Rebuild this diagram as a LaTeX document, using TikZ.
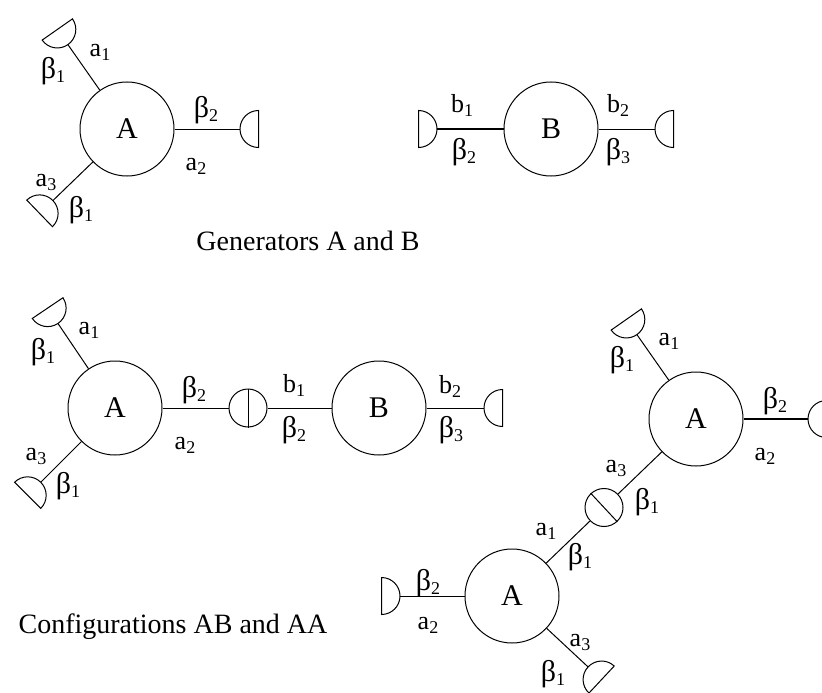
\documentclass[tikz,border=0pt]{standalone}
\usepackage{fontspec}
\setmainfont{Liberation Serif}
\usetikzlibrary{calc}
\newcommand\sbs[1]{\raisebox{-4pt}{\fontsize{18pt}{18pt}\selectfont #1}}
\newcommand\bt{{\fontsize{30pt}{30pt}\selectfont β}}
% half-disc bond end: #1 = end point of the bond, #2 = outward direction
\newcommand\capat[2]{%
  \draw[capline] ($(#1)+(#2:18.5pt)+(#2+90:18.5pt)$)
    .. controls ($(#1)+(#2:8.28pt)+(#2+90:18.5pt)$) and ($(#1)+(#2+90:10.22pt)$) .. (#1)
    .. controls ($(#1)+(#2-90:10.22pt)$) and ($(#1)+(#2:8.28pt)+(#2-90:18.5pt)$) .. ($(#1)+(#2:18.5pt)+(#2-90:18.5pt)$)
    -- cycle;}
\tikzset{
  gen/.style={circle, draw, line width=1pt, minimum size=94pt, inner sep=0pt, font=\fontsize{30pt}{30pt}\selectfont},
  junc/.style={circle, draw, line width=1pt, minimum size=38pt, inner sep=0pt},
  bond/.style={line width=1pt},
  thickbond/.style={line width=2.2pt},
  capline/.style={line width=1pt},
  lbl/.style={inner sep=0pt, font=\fontsize{26pt}{26pt}\selectfont},
  capt/.style={inner sep=0pt, font=\fontsize{28pt}{28pt}\selectfont}
}
\begin{document}
\begin{tikzpicture}[x=1pt,y=-1pt]
\useasboundingbox (0,0) rectangle (822,693);
% ---------- Generator A ----------
\node[gen] (A1) at (127,129) {A};
\coordinate (e11) at ($(A1)+(125:103pt)$);
\coordinate (e12) at ($(A1)+(0:113pt)$);
\coordinate (e13) at ($(A1)+(224:103pt)$);
\draw[bond] (A1) -- (e11);
\draw[bond] (A1) -- (e12);
\draw[bond] (A1) -- (e13);
\capat{e11}{125}
\capat{e12}{0}
\capat{e13}{224}
\node[lbl] (l11) at (100,52) {a\sbs{1}};
\node[lbl] (l12) at (53,71) {\bt\sbs{1}};
\node[lbl] (l13) at (206,110) {\bt\sbs{2}};
\node[lbl] (l14) at (196,166) {a\sbs{2}};
\node[lbl] (l15) at (46,182) {a\sbs{3}};
\node[lbl] (l16) at (81,210) {\bt\sbs{1}};
% ---------- Generator B ----------
\node[gen] (B1) at (551,129) {B};
\coordinate (e14) at ($(B1)+(180:114pt)$);
\coordinate (e15) at ($(B1)+(0:104pt)$);
\draw[thickbond] (B1) -- (e14);
\draw[bond] (B1) -- (e15);
\capat{e14}{180}
\capat{e15}{0}
\node[lbl] (l17) at (462,105) {b\sbs{1}};
\node[lbl] (l18) at (464,152) {\bt\sbs{2}};
\node[lbl] (l19) at (618,105) {b\sbs{2}};
\node[lbl] (l110) at (618,152) {\bt\sbs{3}};
\node[capt] (cap1) at (308,241) {Generators A and B};
% ---------- Configuration AB ----------
\node[gen] (A2) at (115,408) {A};
\node[junc] (J1) at (248,408) {};
\node[gen] (B2) at (379,408) {B};
\coordinate (e21) at ($(A2)+(124:102pt)$);
\coordinate (e23) at ($(A2)+(225:105pt)$);
\coordinate (e25) at ($(B2)+(0:105pt)$);
\draw[bond] (A2) -- (e21);
\draw[bond] (A2) -- (e23);
\draw[bond] (A2) -- (J1);
\draw[bond] (J1) -- (B2);
\draw[bond] (J1.north) -- (J1.south);
\draw[bond] (B2) -- (e25);
\capat{e21}{124}
\capat{e23}{225}
\capat{e25}{0}
\node[lbl] (l21) at (89,330) {a\sbs{1}};
\node[lbl] (l22) at (43,352) {\bt\sbs{1}};
\node[lbl] (l23) at (194,390) {\bt\sbs{2}};
\node[lbl] (l24) at (185,445) {a\sbs{2}};
\node[lbl] (l25) at (36,456) {a\sbs{3}};
\node[lbl] (l26) at (68,486) {\bt\sbs{1}};
\node[lbl] (l27) at (294,385) {b\sbs{1}};
\node[lbl] (l28) at (294,430) {\bt\sbs{2}};
\node[lbl] (l29) at (450,386) {b\sbs{2}};
\node[lbl] (l210) at (451,430) {\bt\sbs{3}};
\node[capt] (cap2) at (173,627) {Configurations AB and AA};
% ---------- Configuration AA ----------
\node[gen] (A3) at (696,419) {A};
\node[gen] (A4) at (512,596) {A};
\node[junc] (J2) at ($(A3)!0.5!(A4)$) {};
\coordinate (e31) at ($(A3)+(125:103pt)$);
\coordinate (e32) at ($(A3)+(0:112pt)$);
\coordinate (e42) at ($(A4)+(180:112pt)$);
\coordinate (e43) at ($(A4)+(317:104pt)$);
\draw[bond] (A3) -- (e31);
\draw[thickbond] (A3) -- (e32);
\draw[bond] (A3) -- (J2);
\draw[bond] (J2) -- (A4);
\draw[bond] (J2.133.8) -- (J2.313.8);
\draw[bond] (A4) -- (e42);
\draw[bond] (A4) -- (e43);
\capat{e31}{125}
\capat{e32}{0}
\capat{e42}{180}
\capat{e43}{317}
\node[lbl] (l31) at (669,341) {a\sbs{1}};
\node[lbl] (l32) at (622,360) {\bt\sbs{1}};
\node[lbl] (l33) at (775,401) {\bt\sbs{2}};
\node[lbl] (l34) at (765,456) {a\sbs{2}};
\node[lbl] (l35) at (616,468) {a\sbs{3}};
\node[lbl] (l36) at (647,502) {\bt\sbs{1}};
\node[lbl] (l41) at (546,531) {a\sbs{1}};
\node[lbl] (l42) at (580,557) {\bt\sbs{1}};
\node[lbl] (l43) at (428,583) {\bt\sbs{2}};
\node[lbl] (l44) at (428,625) {a\sbs{2}};
\node[lbl] (l45) at (580,642) {a\sbs{3}};
\node[lbl] (l46) at (553,674) {\bt\sbs{1}};
\end{tikzpicture}
\end{document}
